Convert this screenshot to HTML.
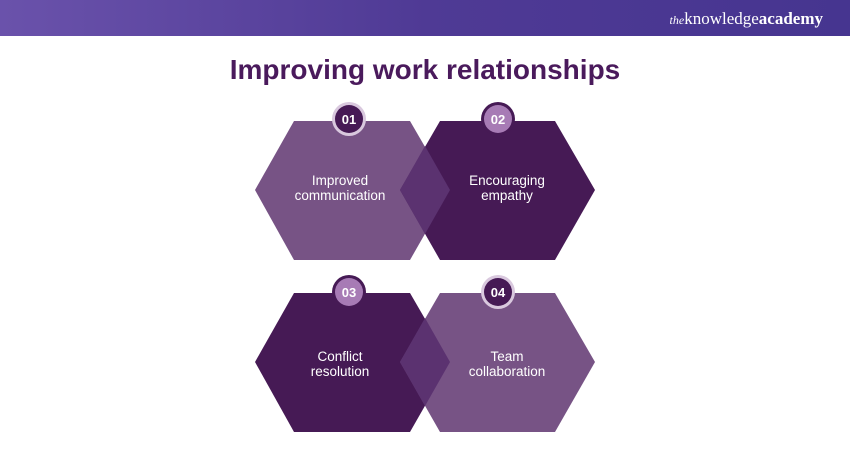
<!DOCTYPE html>
<html><head><style>
body{margin:0;width:850px;height:450px;background:#fff;overflow:hidden;font-family:"Liberation Sans",sans-serif;position:relative}
.bar{position:absolute;left:0;top:0;width:850px;height:36px;background:linear-gradient(90deg,#6a52ab,#4f3a95 50%,#463590)}
.logo{position:absolute;right:27px;top:9px;color:#fff;font-family:"Liberation Serif",serif;font-size:17px}
h1{position:absolute;left:0;width:850px;top:54px;margin:0;text-align:center;color:#4a1a5c;font-size:28px;font-weight:bold}
</style></head><body>
<div class="bar"></div>
<div class="logo"><i style="font-size:12px">the</i>knowledge<b>academy</b></div>
<h1>Improving work relationships</h1>
<svg width="850" height="450" style="position:absolute;left:0;top:0" font-family="Liberation Sans, sans-serif">
<g>
<polygon points="255,190 294,121 410,121 450,190 410,260 294,260" fill="#775385"/>
<polygon points="400,190 440,121 555,121 595,190 555,260 440,260" fill="#461a55"/>
<polygon points="425,146 450,190 425,234 400,190" fill="#5b3270"/>
<polygon points="255,362 294,293 410,293 450,362 410,432 294,432" fill="#461a55"/>
<polygon points="400,362 440,293 555,293 595,362 555,432 440,432" fill="#775385"/>
<polygon points="425,318 450,362 425,406 400,362" fill="#5b3270"/>
</g>
<g font-weight="bold" font-size="13" text-anchor="middle" fill="#fff">
<circle cx="349" cy="119" r="17" fill="#d9c8de"/><circle cx="349" cy="119" r="14" fill="#461a55"/><text x="349" y="124">01</text>
<circle cx="498" cy="119" r="17" fill="#461a55"/><circle cx="498" cy="119" r="14" fill="#a77bb5"/><text x="498" y="124">02</text>
<circle cx="349" cy="292" r="17" fill="#461a55"/><circle cx="349" cy="292" r="14" fill="#a77bb5"/><text x="349" y="297">03</text>
<circle cx="498" cy="292" r="17" fill="#d9c8de"/><circle cx="498" cy="292" r="14" fill="#461a55"/><text x="498" y="297">04</text>
</g>
<g font-size="13.5" text-anchor="middle" fill="#fff">
<text x="340" y="185">Improved</text><text x="340" y="200">communication</text>
<text x="507" y="185">Encouraging</text><text x="507" y="200">empathy</text>
<text x="340" y="361">Conflict</text><text x="340" y="376">resolution</text>
<text x="507" y="361">Team</text><text x="507" y="376">collaboration</text>
</g>
</svg>
</body></html>
